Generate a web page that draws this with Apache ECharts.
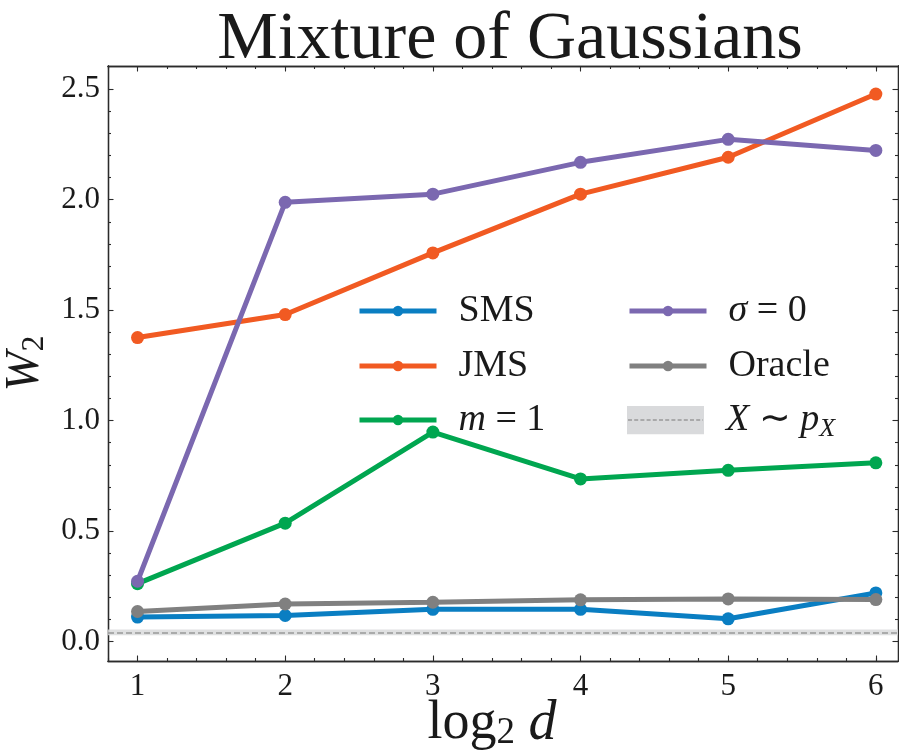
<!DOCTYPE html>
<html><head><meta charset="utf-8">
<script src="https://cdn.jsdelivr.net/npm/echarts@6/dist/echarts.min.js"></script>
<style>html,body{margin:0;padding:0;background:#fff}#c{width:899px;height:751px}</style>
</head><body><div id="c"></div>
<script>
// ---- data ----
const log2d = [1, 2, 3, 4, 5, 6];
const sms = [0.111, 0.118, 0.146, 0.146, 0.103, 0.220];
const jms = [1.376, 1.480, 1.759, 2.025, 2.192, 2.478];
const m1 = [0.262, 0.536, 0.948, 0.736, 0.775, 0.809];
const sigma0 = [0.273, 1.988, 2.025, 2.169, 2.273, 2.223];
const oracle = [0.136, 0.170, 0.178, 0.189, 0.193, 0.190];
const refMean = [0.042];
const refBand = [0.029, 0.055];
const xMajorTicks = [1, 2, 3, 4, 5, 6];
const xMinorTicks = [0.8, 1.2, 1.4, 1.6, 1.8, 2.2, 2.4, 2.6, 2.8, 3.2, 3.4, 3.6, 3.8, 4.2, 4.4, 4.6, 4.8, 5.2, 5.4, 5.6, 5.8, 6.0];
const yMajorTicks = [0, 0.5, 1.0, 1.5, 2.0, 2.5];
const yMinorTicks = [0.1, 0.2, 0.3, 0.4, 0.6, 0.7, 0.8, 0.9, 1.1, 1.2, 1.3, 1.4, 1.6, 1.7, 1.8, 1.9, 2.1, 2.2, 2.3, 2.4];
const names = ['SMS', 'JMS', 'm=1', 'σ=0', 'Oracle', 'X~pX'];
const colors = ['#0a7ec2', '#f15a22', '#00a650', '#7b68b0', '#808080'];

const FONT = 'Liberation Serif';
const X_MIN = 0.8, X_MAX = 6.15, Y_MIN = -0.088, Y_MAX = 2.605;
const AX = '#2b2b2b';
const TXT = '#1a1a1a';

function pairs(v) { return log2d.map((x, i) => [x, v[i]]); }

const svg = "<svg xmlns='http://www.w3.org/2000/svg' width='77' height='29'>" +
  "<rect x='0' y='0' width='77' height='29' fill='#d9dadc'/>" +
  "<line x1='1' y1='14.5' x2='76' y2='14.5' stroke='#999999' stroke-width='1.5' stroke-dasharray='4,2.2'/></svg>";
const refIcon = 'image://data:image/svg+xml;charset=utf-8,' + encodeURIComponent(svg);

const rich = {
  r: { fontFamily: FONT, fontSize: 38, lineHeight: 44, color: TXT },
  i: { fontFamily: FONT, fontSize: 38, fontStyle: 'italic', lineHeight: 44, color: TXT },
  s: { fontFamily: FONT, fontSize: 26, fontStyle: 'italic', lineHeight: 26, verticalAlign: 'bottom', color: TXT }
};
function legendFmt(n) {
  if (n === 'm=1') return '{i|m}{r| = 1}';
  if (n === 'σ=0') return '{i|σ}{r| = 0}';
  if (n === 'X~pX') return '{i|X}{r| ∼ }{i|p}{s|X}';
  return '{r|' + n + '}';
}

// one legend per entry so each row can be placed like the reference
const legendRows = [
  { idx: 0, left: 352, top: 287 }, { idx: 1, left: 352, top: 342 }, { idx: 2, left: 352, top: 396 },
  { idx: 3, left: 622, top: 287 }, { idx: 4, left: 622, top: 342 }, { idx: 5, left: 622, top: 396 }
];
const legends = legendRows.map(r => {
  const isRef = r.idx === 5;
  return {
    data: isRef ? [{ name: names[5], icon: refIcon }] : [names[r.idx]],
    orient: 'vertical', left: r.left, top: r.top,
    itemWidth: 77, itemHeight: isRef ? 29 : 13,
    lineStyle: { width: 5 },
    formatter: legendFmt,
    textStyle: { padding: [0, 0, 0, 17], rich: rich },
    selectedMode: false
  };
});

function lineSeries(idx, vals) {
  return {
    name: names[idx], type: 'line', data: pairs(vals),
    xAxisIndex: 0, yAxisIndex: 0,
    symbol: 'circle', symbolSize: 13, showSymbol: true,
    lineStyle: { color: colors[idx], width: 5 },
    itemStyle: { color: colors[idx] },
    emphasis: { disabled: true }, animation: false, z: 3 + idx
  };
}

function xAxisDef(pos, ticks, len, labels) {
  return {
    type: 'value', position: pos, min: X_MIN, max: X_MAX, gridIndex: 0,
    axisLine: { show: true, onZero: false, lineStyle: { color: AX, width: 1.3 } },
    axisTick: { show: true, inside: true, length: len, customValues: ticks, lineStyle: { color: AX, width: 1.1 } },
    axisLabel: labels ? { show: true, customValues: ticks, margin: 10, fontFamily: FONT, fontSize: 31, color: TXT } : { show: false },
    splitLine: { show: false }
  };
}
function yAxisDef(pos, ticks, len, labels) {
  return {
    type: 'value', position: pos, min: Y_MIN, max: Y_MAX, gridIndex: 0,
    axisLine: { show: true, onZero: false, lineStyle: { color: AX, width: 1.3 } },
    axisTick: { show: true, inside: true, length: len, customValues: ticks, lineStyle: { color: AX, width: 1.1 } },
    axisLabel: labels ? { show: true, customValues: ticks, margin: 8, fontFamily: FONT, fontSize: 31, color: TXT,
      formatter: v => v.toFixed(1) } : { show: false },
    splitLine: { show: false }
  };
}

const xAxes = [
  xAxisDef('bottom', xMajorTicks, 5.5, true),
  xAxisDef('bottom', xMinorTicks, 3, false),
  xAxisDef('top', xMajorTicks, 5.5, false),
  xAxisDef('top', xMinorTicks, 3, false)
];
xAxes[0].name = '{r|log}{sub|2}{r| }{i|d}';
xAxes[0].nameLocation = 'middle';
xAxes[0].nameGap = 35;
xAxes[0].nameMoveOverlap = false;
xAxes[0].nameTextStyle = { padding: [0, 22, 0, 0], rich: {
  r: { fontFamily: FONT, fontSize: 54, lineHeight: 56, color: TXT },
  sub: { fontFamily: FONT, fontSize: 37, lineHeight: 37, verticalAlign: 'bottom', color: TXT },
  i: { fontFamily: FONT, fontSize: 56, fontStyle: 'italic', lineHeight: 56, color: TXT } } };

const yAxes = [
  yAxisDef('left', yMajorTicks, 5.5, true),
  yAxisDef('left', yMinorTicks, 3, false),
  yAxisDef('right', yMajorTicks, 5.5, false),
  yAxisDef('right', yMinorTicks, 3, false)
];
yAxes[0].name = '{i|W}{sub|2}';
yAxes[0].nameLocation = 'middle';
yAxes[0].nameRotate = 90;
yAxes[0].nameGap = 52;
yAxes[0].nameTextStyle = { rich: {
  i: { fontFamily: FONT, fontSize: 48, fontStyle: 'italic', lineHeight: 50, color: TXT },
  sub: { fontFamily: FONT, fontSize: 32, lineHeight: 32, verticalAlign: 'bottom', color: TXT } } };

const series = [
  lineSeries(0, sms), lineSeries(1, jms), lineSeries(2, m1), lineSeries(3, sigma0), lineSeries(4, oracle),
  {
    name: names[5], type: 'line', data: [], xAxisIndex: 0, yAxisIndex: 0, z: 2,
    animation: false,
    markArea: { silent: true, itemStyle: { color: '#d9dadc', opacity: 0.85 },
      data: [[{ yAxis: refBand[0] }, { yAxis: refBand[1] }]] },
    markLine: { silent: true, symbol: 'none', label: { show: false },
      lineStyle: { color: '#999999', width: 1.5, type: [6, 3] },
      data: [{ yAxis: refMean[0] }] }
  }
];

const chart = echarts.init(document.getElementById('c'), null, { renderer: 'canvas' });
chart.setOption({
  animation: false,
  backgroundColor: '#ffffff',
  title: { text: 'Mixture of Gaussians', left: 505, textAlign: 'center', top: 1,
    textStyle: { fontFamily: FONT, fontSize: 68, fontWeight: 'normal', color: TXT } },
  grid: { left: 108, right: 1, top: 66, bottom: 90, containLabel: false, outerBoundsMode: 'none' },
  xAxis: xAxes,
  yAxis: yAxes,
  legend: legends,
  series: series
});
</script></body></html>
